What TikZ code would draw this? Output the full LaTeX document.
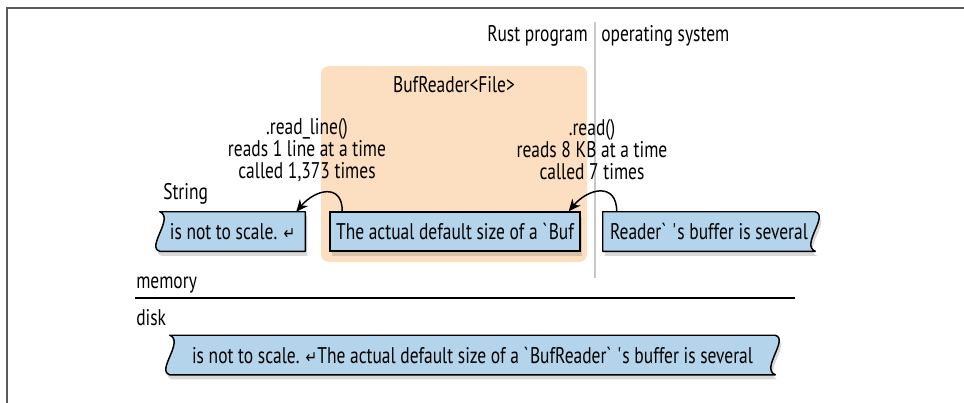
\documentclass[tikz,border=0pt]{standalone}
\usepackage{fontspec}
\setmainfont{PT Sans}[FakeStretch=0.77]
\newfontfamily\arrowfont{DejaVu Sans}[FakeStretch=0.8]
\usetikzlibrary{arrows.meta, shadows, calc}
\pgfdeclarelayer{bg}
\pgfsetlayers{bg,main}
\definecolor{bufbg}{RGB}{252,222,192}
\definecolor{boxbg}{RGB}{179,212,234}
\definecolor{framegray}{RGB}{90,90,90}
\definecolor{sepgray}{RGB}{200,200,200}
\newcommand{\retsym}{{\arrowfont\fontsize{13}{13}\selectfont\char"21B5}}

\begin{document}
\begin{tikzpicture}[x=0.75pt, y=0.75pt,
          every node/.style={font=\fontsize{17}{16.5}\selectfont, inner sep=0pt},
          box/.style={minimum height=29.25pt, draw, line width=1.1pt, fill=boxbg,
            drop shadow={shadow xshift=1.5pt, shadow yshift=-3.5pt, opacity=0.3}},
          slot/.style={minimum height=29.25pt},
          banner/.style={draw, line width=1.1pt, fill=boxbg, line join=round,
            drop shadow={shadow xshift=1.5pt, shadow yshift=-3.5pt, opacity=0.3}},
          call/.style={align=center},
          hop/.style={line width=1.1pt, looseness=1.6, -{Stealth[length=9pt, width=8pt]}},
          tag/.style={anchor=west}
        ]
        \useasboundingbox (0,0) rectangle (964,-403);
        % frame
        \draw[framegray, line width=1.5pt] (7,-403) -- (7,-8) -- (964,-8);

        % program / os split
        \node[anchor=east] (rust) at (588,-36) {Rust program};
        \node[tag] (os) at (601,-36) {operating system};
        \draw[sepgray, line width=1.5pt] (595,-22) -- (595,-278);

        % the BufReader
        \begin{pgfonlayer}{bg}
          \fill[bufbg, rounded corners=6pt] (321,-66) rectangle (587,-262);
        \end{pgfonlayer}
        \node (title) at (454,-85) {BufReader<File>};

        \node[call] (readline) at (307,-150) {.read\_line()\\reads 1 line at a time\\called 1,373 times};
        \node[call] (read) at (592,-150) {.read()\\reads 8 KB at a time\\called 7 times};

        % buffers in memory
        \node[tag] (string) at (163,-194) {String};
        \node[slot, minimum width=108.75pt] (lbox) at (232.5,-231.5) {is not to scale. \retsym};
        \node[box, minimum width=187.5pt] (mbox) at (455,-231.5) {The actual default size of a \textasciigrave Buf};
        \node[slot, minimum width=159pt] (rbox) at (709,-231.5) {Reader\textasciigrave\ \textquotesingle s buffer is several};

        \begin{pgfonlayer}{bg}
          \draw[banner] (lbox.south west) .. controls +(-14,4) and +(15,-6) .. (lbox.north west)
            -- (lbox.north east) -- (lbox.south east) -- cycle;
          \draw[banner] (rbox.north east) .. controls +(14,-4) and +(-15,6) .. (rbox.south east)
            -- (rbox.south west) -- (rbox.north west) -- cycle;
        \end{pgfonlayer}

        \draw[hop] ($(mbox.north west)+(13,0)$) to[out=90, in=50] ($(lbox.north east)+(-9,0)$);
        \draw[hop] ($(rbox.north west)+(14,0)$) to[out=90, in=50] ($(mbox.north east)+(-12,0)$);

        % memory / disk
        \node[tag] (memory) at (136,-285) {memory};
        \draw[line width=1.2pt] (135,-298) -- (795,-298);
        \node[tag] (disk) at (136,-318) {disk};

        \node[slot, minimum width=453.75pt] (dbox) at (472.5,-355) {is not to scale. \retsym The actual default size of a \textasciigrave BufReader\textasciigrave\ \textquotesingle s buffer is several};
        \begin{pgfonlayer}{bg}
          \draw[banner] (dbox.south west) .. controls +(-14,4) and +(15,-6) .. (dbox.north west)
            -- (dbox.north east) .. controls +(14,-4) and +(-15,6) .. (dbox.south east) -- cycle;
        \end{pgfonlayer}
\end{tikzpicture}
\end{document}
